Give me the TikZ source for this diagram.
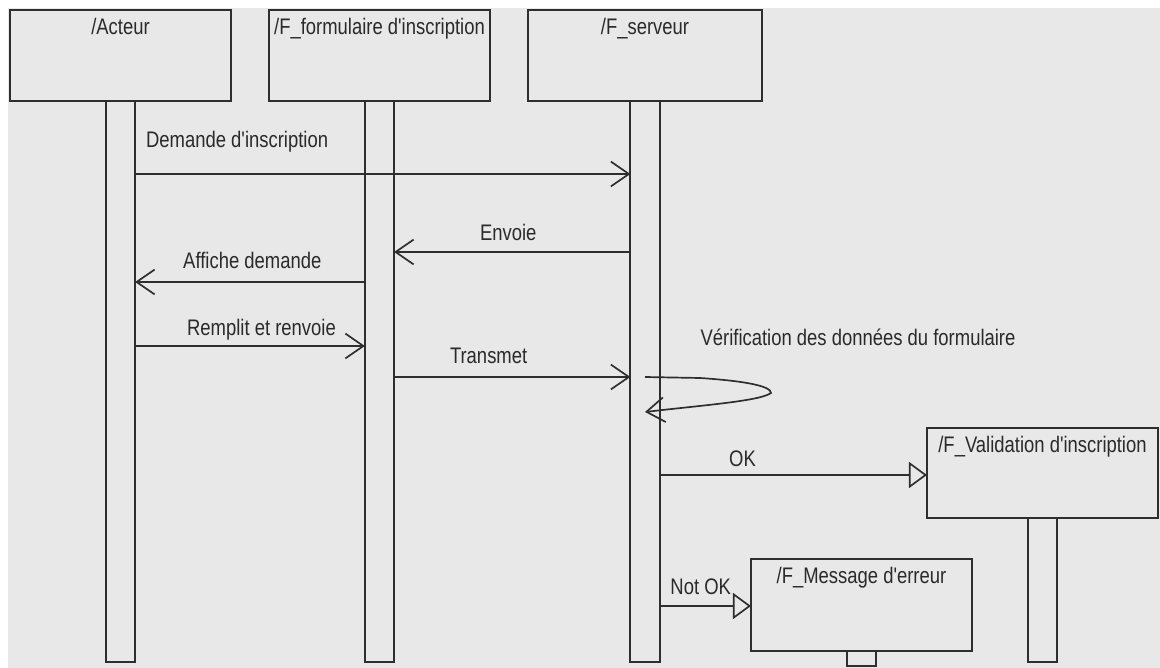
\documentclass[tikz,border=0pt]{standalone}
\usepackage{fontspec}
\newfontfamily\diafont[FakeStretch=0.82]{Liberation Sans}
\usetikzlibrary{positioning,arrows.meta}
\definecolor{bgray}{HTML}{E8E8E8}
\definecolor{lgray}{HTML}{2E2E2E}
\definecolor{tgray}{HTML}{2A2A2A}

\begin{document}
\begin{tikzpicture}[x=0.025cm,y=-0.025cm,
 lifebox/.style={draw=lgray,line width=1.3pt,fill=bgray,inner sep=0pt,outer sep=0pt,minimum height=2.275cm},
 bar/.style={draw=lgray,line width=1.3pt,fill=bgray,inner sep=0pt,outer sep=0pt,minimum width=0.73cm},
 title/.style={anchor=base,text=tgray,font=\diafont\fontsize{16}{18}\selectfont,inner sep=0pt},
 lbl/.style={anchor=base,text=tgray,font=\diafont\fontsize{16}{18}\selectfont,inner sep=0pt},
 msg/.style={draw=lgray,line width=1.2pt,-{Straight Barb[length=0.45cm,width=0.62cm]}},
 reply/.style={draw=lgray,line width=1.2pt,-{Triangle[open,length=0.45cm,width=0.65cm]}}]
 \useasboundingbox (0,0) rectangle (1160,668);
 \fill[bgray] (8,8) rectangle (1160,668);
 %
 \node[lifebox,minimum width=5.525cm] (acteur) at (120.5,55.5) {};
 \node[lifebox,minimum width=5.525cm] (formulaire) at (379.5,55.5) {};
 \node[lifebox,minimum width=5.85cm] (serveur) at (645,55.5) {};
 \node[title] (acteurTitle) at ([yshift=-0.625cm]acteur.north) {/Acteur};
 \node[title] (formulaireTitle) at ([yshift=-0.625cm]formulaire.north) {/F\_formulaire d'inscription};
 \node[title] (serveurTitle) at ([yshift=-0.625cm]serveur.north) {/F\_serveur};
 %
 \node[bar,minimum height=14.025cm,below=0pt of acteur] (acteurBar) {};
 \node[bar,minimum height=14.025cm,below=0pt of formulaire] (formulaireBar) {};
 \node[bar,minimum height=14.025cm,below=0pt of serveur] (serveurBar) {};
 %
 \node[lifebox,minimum width=5.775cm,minimum height=2.25cm] (validation) at (1042.5,473) {};
 \node[title] (validationTitle) at ([yshift=-0.625cm]validation.north) {/F\_Validation d'inscription};
 \node[bar,minimum height=3.6cm,below=0pt of validation] (validationBar) {};
 %
 \node[lifebox,minimum width=5.525cm,minimum height=2.3cm] (erreur) at (861.5,605) {};
 \node[title] (erreurTitle) at ([yshift=-0.625cm]erreur.north) {/F\_Message d'erreur};
 \node[bar,minimum height=0.38cm,below=0pt of erreur] (erreurBar) {};
 %
 \draw[msg] (acteurBar.east |- 0,174) -- node[lbl,pos=0.206,yshift=0.66cm]{Demande d'inscription} (serveurBar.west |- 0,174);
 \draw[msg] (serveurBar.west |- 0,252) -- node[lbl,pos=0.517,yshift=0.275cm]{Envoie} (formulaireBar.east |- 0,252);
 \draw[msg] (formulaireBar.west |- 0,282) -- node[lbl,pos=0.49,yshift=0.325cm]{Affiche demande} (acteurBar.east |- 0,282);
 \draw[msg] (acteurBar.east |- 0,346) -- node[lbl,pos=0.55,yshift=0.25cm]{Remplit et renvoie} (formulaireBar.west |- 0,346);
 \draw[msg] (formulaireBar.east |- 0,377) -- node[lbl,pos=0.40,yshift=0.325cm]{Transmet} (serveurBar.west |- 0,377);
 %
 \node[lbl] (verifLabel) at (858,346) {V\'erification des donn\'ees du formulaire};
 \draw[msg] (serveurBar.center |- 0,377) -- (700,378) .. controls (745,381) and (771,386) .. (771,393) .. controls (760,401) and (705,405) .. (serveurBar.center |- 0,412);
 %
 \draw[reply] (serveurBar.east |- 0,475) -- node[lbl,pos=0.31,yshift=0.2cm]{OK} (validation.west |- 0,475);
 \draw[reply] (serveurBar.east |- 0,606) -- node[lbl,pos=0.45,yshift=0.275cm]{Not OK} (erreur.west |- 0,606);
\end{tikzpicture}
\end{document}
